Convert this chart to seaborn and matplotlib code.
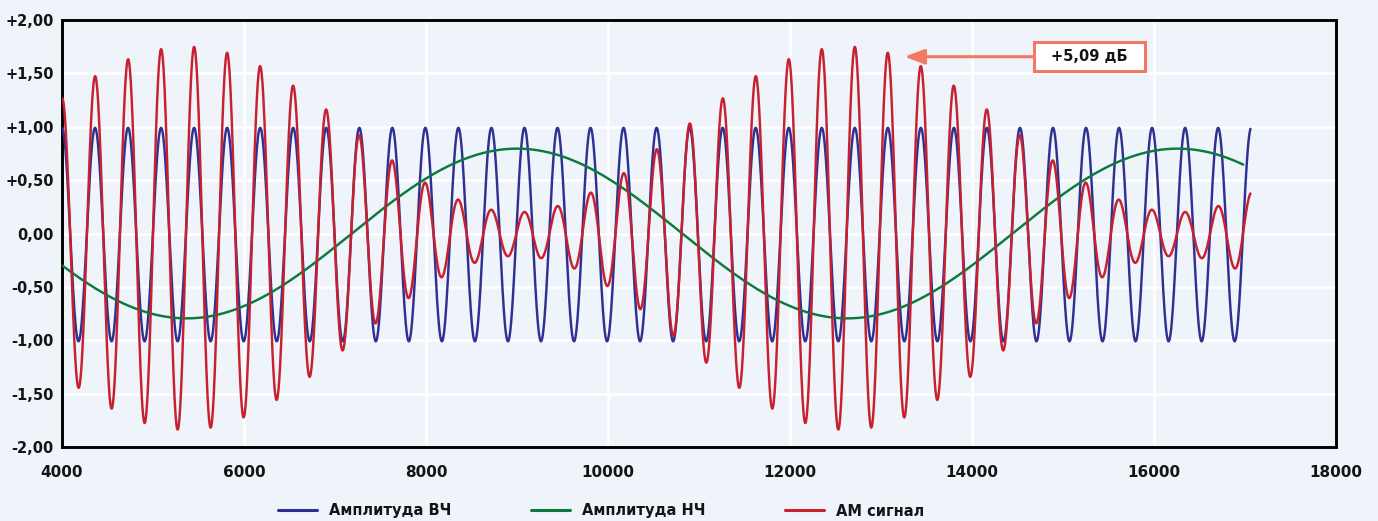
import numpy as np
import pandas as pd
import matplotlib
matplotlib.use("Agg")
import matplotlib.pyplot as plt
from matplotlib.patches import Rectangle
from matplotlib.transforms import Affine2D
import seaborn as sns

# ---- data ----
series_names = ["Амплитуда ВЧ", "Амплитуда НЧ", "АМ сигнал"]
x_range_hf = [4000, 17060]          # extent of carrier / AM curves
x_range_lf = [4000, 16980]          # extent of LF curve
carrier_amp = [1.0]                 # HF carrier amplitude
carrier_offset = [-0.01]
carrier_period = [363.0]            # one HF period in x units
carrier_peak_at = [4000.0]          # x of a carrier peak
lf_amp = [0.795]                    # LF amplitude
lf_period = [7260.0]                # LF period (20 carrier periods)
lf_min_at = [5370.0]                # x of LF minimum
am_shift = [0.015]                  # AM asymmetry read from envelope
y_ticks = [-2.0, -1.5, -1.0, -0.5, 0.0, 0.5, 1.0, 1.5, 2.0]
y_tick_labels = ["-2,00", "-1,50", "-1,00", "-0,50", "0,00", "+0,50", "+1,00", "+1,50", "+2,00"]
x_ticks = [4000, 6000, 8000, 10000, 12000, 14000, 16000, 18000]
annot_text = "+5,09 дБ"
annot_xy = [13259, 1.656]
annot_text_xy = [15291, 1.656]

# ---- build series ----
x_hf = np.arange(x_range_hf[0], x_range_hf[1] + 1, 4.0)
x_lf = np.arange(x_range_lf[0], x_range_lf[1] + 1, 4.0)
hf = carrier_amp[0] * np.cos(2 * np.pi * (x_hf - carrier_peak_at[0]) / carrier_period[0]) + carrier_offset[0]
lf_on_hf = -lf_amp[0] * np.cos(2 * np.pi * (x_hf - lf_min_at[0]) / lf_period[0])
lf = -lf_amp[0] * np.cos(2 * np.pi * (x_lf - lf_min_at[0]) / lf_period[0])
am = (hf - am_shift[0]) * (1 - lf_on_hf)

df = pd.concat([
    pd.DataFrame({"x": x_hf, "y": hf, "s": series_names[0]}),
    pd.DataFrame({"x": x_lf, "y": lf, "s": series_names[1]}),
    pd.DataFrame({"x": x_hf, "y": am, "s": series_names[2]}),
], ignore_index=True)

bg = "#eff3fa"
ink = "#141414"
sns.set_theme(style="white")
plt.rcParams["font.family"] = ["DejaVu Sans"]

W, H = 1378, 521
fig = plt.figure(figsize=(W / 100, H / 100), dpi=100, facecolor=bg)
ax = fig.add_axes([62 / W, 1 - 447 / H, (1336 - 62) / W, (447 - 20) / H])
ax.set_facecolor(bg)

palette = {series_names[0]: "#2e3192", series_names[1]: "#0b7a3c", series_names[2]: "#c8202f"}
sns.lineplot(data=df, x="x", y="y", hue="s", palette=palette, ax=ax,
             linewidth=1.75, estimator=None, sort=False, legend=True, zorder=3)
for ln in ax.get_lines():
    if ln.get_label() == series_names[1]:
        ln.set_linewidth(2.1)

ax.set_xlim(4000, 18000)
ax.set_ylim(-2, 2)
ax.set_xticks(x_ticks)
ax.set_xticklabels([str(v) for v in x_ticks], fontsize=11, fontweight="bold", color=ink)
ax.set_yticks(y_ticks)
ax.set_yticklabels(y_tick_labels, fontsize=10.5, fontweight="bold", color=ink)
ax.tick_params(axis="x", length=0, pad=13)
ax.tick_params(axis="y", length=0, pad=6)
ax.set_xlabel("")
ax.set_ylabel("")
ax.grid(True, color="white", linewidth=1.9, zorder=0)
ax.set_axisbelow(True)
for sp in ax.spines.values():
    sp.set_color("black")
    sp.set_linewidth(2.1)

# annotation: arrow from box to the peak, box drawn in pixel size around text point
coral = "#f07a62"
cx, cy = ax.transData.transform(annot_text_xy)
box_w, box_h = 111, 29
ax.annotate("", xy=annot_xy, xytext=(cx - box_w / 2, cy), textcoords=None,
            xycoords="data",
            arrowprops=dict(arrowstyle="-|>,head_length=1.0,head_width=0.38", color=coral, lw=2.2,
                            shrinkA=0, shrinkB=0), zorder=5)
# fix textcoords to display pixels
ax.texts[-1].set_anncoords("figure pixels")
ax.texts[-1].xyann = (cx - box_w / 2, cy)
rect = Rectangle((-box_w / 2, -box_h / 2), box_w, box_h, transform=Affine2D().translate(cx, cy),
                 fc="white", ec=coral, lw=2.2, zorder=6, clip_on=False)
fig.add_artist(rect)
fig.text(cx / W, cy / H, annot_text, ha="center", va="center", fontsize=10.5,
         fontweight="bold", color=ink, zorder=7)

leg = ax.legend(loc="center", bbox_to_anchor=(601 / W, 1 - 511 / H), bbox_transform=fig.transFigure,
                ncol=3, frameon=False, fontsize=10.5, handlelength=2.7, handletextpad=0.8,
                columnspacing=5.45, title=None)
for t in leg.get_texts():
    t.set_fontweight("bold")
    t.set_color(ink)
for h in leg.get_lines():
    h.set_linewidth(2.2)

fig.savefig("out.png", dpi=100, facecolor=bg)
